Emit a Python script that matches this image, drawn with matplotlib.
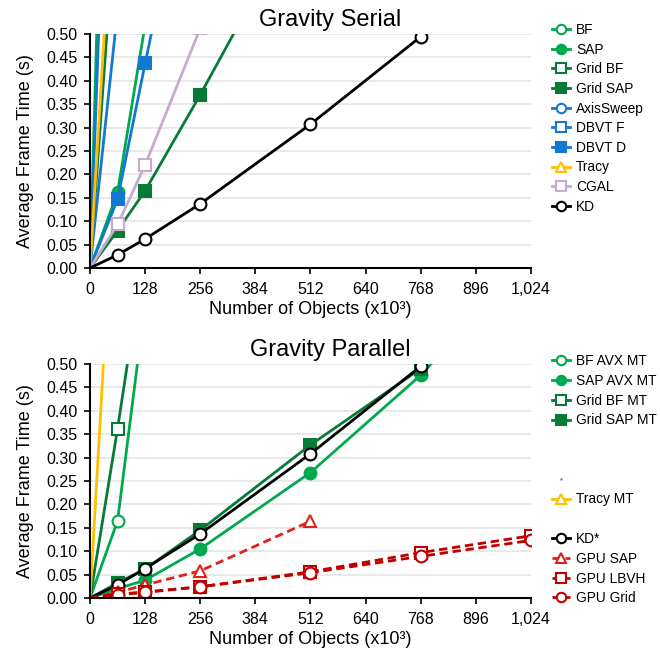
import numpy as np
import matplotlib.pyplot as plt
from matplotlib.lines import Line2D

plt.rcParams['font.family'] = ['Liberation Sans', 'DejaVu Sans']

n_objects = [0, 64, 128, 256, 512, 768, 1024]
nan = np.nan

# Gravity Serial (seconds); values above 0.5 run off the top of the axis
serial_bf = [0, 2.06, nan, nan, nan, nan, nan]
serial_sap = [0, 0.162, 0.52, nan, nan, nan, nan]
serial_grid_bf = [0, 0.82, nan, nan, nan, nan, nan]
serial_grid_sap = [0, 0.080, 0.165, 0.370, 0.80, nan, nan]
serial_axis_sweep = [0, 1.60, nan, nan, nan, nan, nan]
serial_dbvt_f = [0, 0.55, nan, nan, nan, nan, nan]
serial_dbvt_d = [0, 0.147, 0.437, 1.00, nan, nan, nan]
serial_tracy = [0, 0.97, nan, nan, nan, nan, nan]
serial_cgal = [0, 0.093, 0.220, 0.512, nan, nan, nan]
serial_kd = [0, 0.028, 0.062, 0.137, 0.307, 0.494, nan]

# Gravity Parallel (seconds)
par_bf_avx = [0, 0.165, 0.63, nan, nan, nan, nan]
par_sap_avx = [0, 0.020, 0.038, 0.105, 0.268, 0.476, 0.73]
par_grid_bf = [0, 0.362, 0.75, nan, nan, nan, nan]
par_grid_sap = [0, 0.032, 0.062, 0.145, 0.327, 0.490, 0.70]
par_tracy = [0, 1.03, nan, nan, nan, nan, nan]
par_kd = [0, 0.028, 0.063, 0.137, 0.308, 0.495, nan]
gpu_sap = [0, 0.012, 0.028, 0.058, 0.164, nan, nan]
gpu_lbvh = [0, 0.008, 0.013, 0.024, 0.056, 0.097, 0.133]
gpu_grid = [0, 0.007, 0.012, 0.024, 0.054, 0.089, 0.123]

x_ticks = [0, 128, 256, 384, 512, 640, 768, 896, 1024]
x_tick_labels = ['0', '128', '256', '384', '512', '640', '768', '896', '1,024']
y_ticks = [0.0, 0.05, 0.10, 0.15, 0.20, 0.25, 0.30, 0.35, 0.40, 0.45, 0.50]

GREEN = '#00A84F'
DKGREEN = '#087A38'
BLUE = '#1378D0'
YELLOW = '#FFC000'
LILAC = '#C9AACF'
RED = '#E0201B'
DKRED = '#C00000'

fig = plt.figure(figsize=(6.6, 6.52), dpi=100)
ax1 = fig.add_axes([0.1364, 0.589, 0.668, 0.359])
ax2 = fig.add_axes([0.1364, 0.0828, 0.668, 0.359])

# (values, label, colour, marker, filled, dashed)
serial = [
    (serial_bf, 'BF', GREEN, 'o', False, False),
    (serial_sap, 'SAP', GREEN, 'o', True, False),
    (serial_grid_bf, 'Grid BF', DKGREEN, 's', False, False),
    (serial_grid_sap, 'Grid SAP', DKGREEN, 's', True, False),
    (serial_axis_sweep, 'AxisSweep', BLUE, 'o', False, False),
    (serial_dbvt_f, 'DBVT F', BLUE, 's', False, False),
    (serial_dbvt_d, 'DBVT D', BLUE, 's', True, False),
    (serial_tracy, 'Tracy', YELLOW, '^', False, False),
    (serial_cgal, 'CGAL', LILAC, 's', False, False),
    (serial_kd, 'KD', 'black', 'o', False, False),
]

parallel = [
    (par_bf_avx, 'BF AVX MT', GREEN, 'o', False, False),
    (par_sap_avx, 'SAP AVX MT', GREEN, 'o', True, False),
    (par_grid_bf, 'Grid BF MT', DKGREEN, 's', False, False),
    (par_grid_sap, 'Grid SAP MT', DKGREEN, 's', True, False),
    (par_tracy, 'Tracy MT', YELLOW, '^', False, False),
    (par_kd, 'KD*', 'black', 'o', False, False),
    (gpu_sap, 'GPU SAP', RED, '^', False, True),
    (gpu_lbvh, 'GPU LBVH', DKRED, 's', False, True),
    (gpu_grid, 'GPU Grid', DKRED, 'o', False, True),
]


def draw(ax, series, title):
    handles = {}
    for vals, label, col, mk, filled, dashed in series:
        v = np.array(vals, dtype=float)
        ok = ~np.isnan(v)
        xs = np.array(n_objects)[ok]
        h, = ax.plot(xs, v[ok], color=col, lw=2.0,
                     ls=(0, (3, 1.7)) if dashed else '-',
                     marker=mk, markersize=8.5 if mk != '^' else 9,
                     markerfacecolor=col if filled else 'white',
                     markeredgecolor=col, markeredgewidth=1.5,
                     markevery=list(range(1, ok.sum())), clip_on=True)
        handles[label] = h
    ax.set_xlim(0, 1024)
    ax.set_ylim(0, 0.5)
    ax.set_xticks(x_ticks, x_tick_labels)
    ax.set_yticks(y_ticks, [f'{t:.2f}' for t in y_ticks])
    ax.tick_params(labelsize=11.5, direction='out', length=4, width=1.2,
                   color='black')
    ax.tick_params(axis='x', pad=6)
    ax.tick_params(axis='y', pad=5)
    ax.yaxis.grid(True, color='#E3E3E3', lw=1.1)
    ax.set_axisbelow(True)
    for s in ['top', 'right']:
        ax.spines[s].set_visible(False)
    for s in ['left', 'bottom']:
        ax.spines[s].set_linewidth(1.5)
    ax.set_xlabel('Number of Objects (x10³)', fontsize=13, labelpad=3)
    ax.set_ylabel('Average Frame Time (s)', fontsize=13, labelpad=9)
    ax.text(0.544, 1.012, title, transform=ax.transAxes, ha='center',
            va='bottom', fontsize=17)
    return handles


h1 = draw(ax1, serial, 'Gravity Serial')
h2 = draw(ax2, parallel, 'Gravity Parallel')

leg_kw = dict(frameon=False, fontsize=9.9, handlelength=1.3, handletextpad=0.45,
              labelspacing=0.41, borderaxespad=0, borderpad=0, markerscale=0.8)

fig.legend([h1[s[1]] for s in serial], [s[1] for s in serial],
           loc='upper left', bbox_to_anchor=(552 / 660, 1 - 23 / 652), **leg_kw)

blank = Line2D([], [], lw=0, marker=None)
dot = Line2D([], [], lw=0, marker='.', markersize=1.5, color=BLUE)
order2 = ['BF AVX MT', 'SAP AVX MT', 'Grid BF MT', 'Grid SAP MT', None, None,
          'dot', 'Tracy MT', None, 'KD*', 'GPU SAP', 'GPU LBVH', 'GPU Grid']
hs, ls = [], []
for k in order2:
    if k is None:
        hs.append(blank); ls.append(' ')
    elif k == 'dot':
        hs.append(dot); ls.append(' ')
    else:
        hs.append(h2[k]); ls.append(k)
leg_kw['labelspacing'] = 0.42
fig.legend(hs, ls, loc='upper left', bbox_to_anchor=(552 / 660, 1 - 354 / 652),
           **leg_kw)

fig.savefig('out.png', dpi=100)
